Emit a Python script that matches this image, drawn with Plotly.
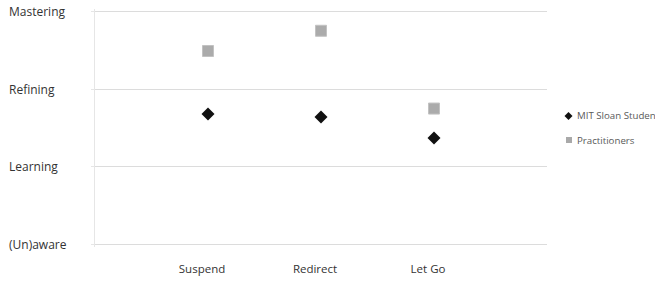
import plotly.graph_objects as go

categories = ["Suspend", "Redirect", "Let Go"]
cat_x = [1, 2, 3]
level_labels = ["(Un)aware", "Learning", "Refining", "Mastering"]
level_vals = [0, 1, 2, 3]
series_names = ["MIT Sloan Students", "Practitioners"]
students = [1.68, 1.64, 1.37]
practitioners = [2.49, 2.75, 1.75]

L, R, T, B = 95, 108, 9, 38
W, H = 655, 285
PW, PH = W - L - R, H - T - B


def px(x):
    return (x - L) / PW


def py(y):
    return (H - B - y) / PH


fig = go.Figure()
fig.add_trace(go.Scatter(x=cat_x, y=students, mode="markers", name=series_names[0],
                         marker=dict(symbol="diamond", size=10, color="#111111")))
fig.add_trace(go.Scatter(x=cat_x, y=practitioners, mode="markers", name=series_names[1],
                         marker=dict(symbol="square", size=11, color="#ababab",
                                     line=dict(color="#c2c2c2", width=1))))

for v, t in zip(level_vals, level_labels):
    fig.add_annotation(x=px(7), xref="paper", y=v, yref="y", text=t, showarrow=False,
                       xanchor="left", yanchor="middle",
                       font=dict(family="Open Sans", size=12, color="#333333"))

# manual legend
leg_items = [(116, "diamond"), (140, "square")]
for (ly, sym), name in zip(leg_items, series_names):
    fig.add_annotation(x=px(575), xref="paper", y=py(ly), yref="paper", text=name, showarrow=False,
                       xanchor="left", yanchor="middle",
                       font=dict(family="Open Sans", size=9.7, color="#595959"))
    if sym == "diamond":
        cx, cy, r = 568.5, ly, 4
        path = f"M {px(cx - r)},{py(cy)} L {px(cx)},{py(cy - r)} L {px(cx + r)},{py(cy)} L {px(cx)},{py(cy + r)} Z"
        fig.add_shape(type="path", path=path, xref="paper", yref="paper",
                      fillcolor="#111111", line=dict(width=0))
    else:
        cx, cy, r = 569, ly, 3
        fig.add_shape(type="rect", xref="paper", yref="paper",
                      x0=px(cx - r), x1=px(cx + r), y0=py(cy + r), y1=py(cy - r),
                      fillcolor="#a9a9a9", line=dict(width=0))

fig.update_layout(
    width=W, height=H,
    margin=dict(l=L, r=R, t=T, b=B, autoexpand=False),
    plot_bgcolor="white", paper_bgcolor="white",
    showlegend=False,
)
fig.update_xaxes(range=[0, 4], tickvals=cat_x, ticktext=categories, showgrid=False, zeroline=False,
                 showline=False, ticks="", ticklabelshift=-6, ticklabelstandoff=13,
                 tickfont=dict(family="Open Sans", size=11.5, color="#333333"))
fig.update_yaxes(range=[-0.03, 3.03], tickvals=level_vals, showticklabels=False, showgrid=True,
                 gridcolor="#dcdcdc", gridwidth=1, zeroline=False, showline=True, linecolor="#e6e6e6",
                 ticks="outside", ticklen=3, tickcolor="#e6e6e6")

fig.write_html("out.html")
